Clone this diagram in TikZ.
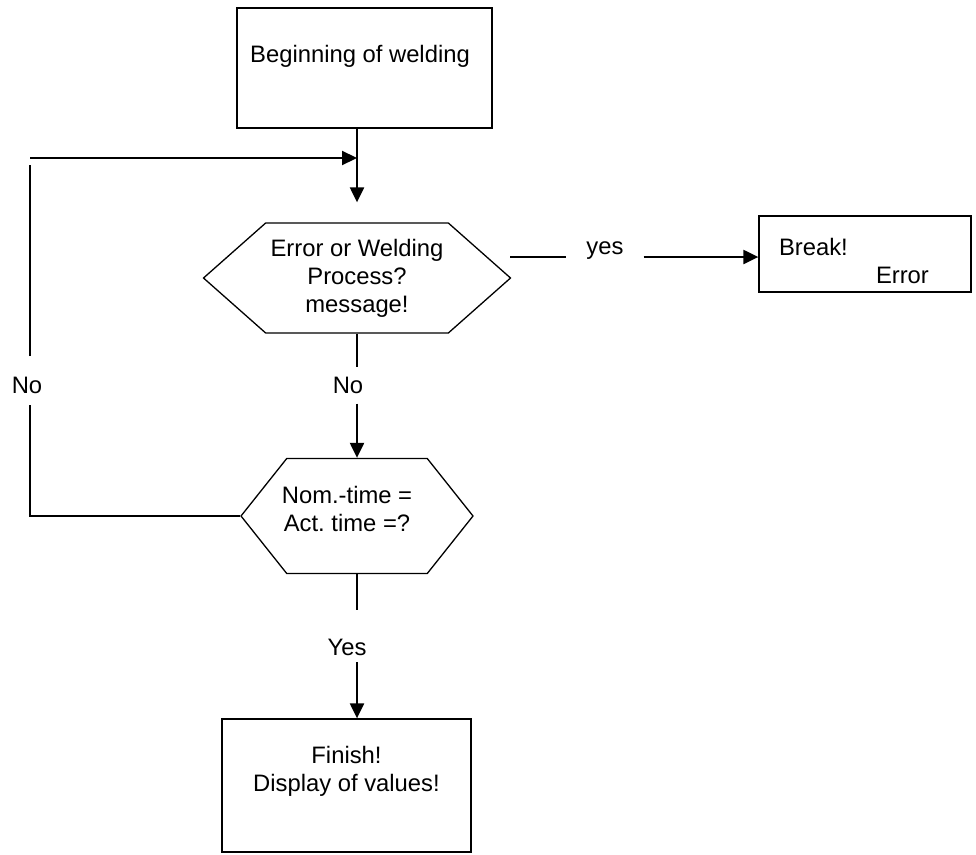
\documentclass[tikz,border=0pt]{standalone}
\usepackage{fontspec}
\setmainfont{Liberation Sans}
\usetikzlibrary{shapes.symbols,arrows.meta}
\begin{document}
\begin{tikzpicture}[x=1pt,y=-1pt,
  font=\fontsize{23.8}{28}\selectfont,
  box/.style={rectangle,draw,line width=1.3pt,inner sep=0pt},
  hexa/.style={signal,signal to=west and east,draw,line width=1.3pt,inner sep=0pt,align=center},
  word/.style={inner sep=0pt},
  thinline/.style={line width=1.3pt},
  arrowline/.style={line width=2.2pt,-{Triangle[length=15pt,width=14pt]}}]
\useasboundingbox (0,0) rectangle (976,854);

\node [box,minimum width=255pt,minimum height=120pt,label={[xshift=-4.5pt,yshift=12pt]center:Beginning of welding}] (start) at (364.5,68) {};
\node [hexa,minimum width=307pt,minimum height=110pt,signal pointer angle=83] (ask) at (357,278) {Error or Welding\\Process?\\message!};
\node [box,minimum width=212pt,minimum height=76pt,label={[yshift=-6.5pt,text width=172pt,align=left]center:Break!\\\hspace*{97pt}Error}] (stop) at (865,254) {};
\node [hexa,minimum width=232pt,minimum height=115pt,signal pointer angle=103,label={[xshift=-10pt,yshift=7.5pt,align=center]center:Nom.-time =\\Act.\ time =?}] (check) at (357,516) {};
\node [box,minimum width=249pt,minimum height=133pt,label={[yshift=14pt,align=center]center:Finish!\\Display of values!}] (finish) at (346.5,785.5) {};

\node [word,inner ysep=10pt] (no1) at (348,385) {No};
\node [word] (noL) at (27,385) {No};
\node [word] (yes2) at (347,647.5) {Yes};
\node [word,inner xsep=20pt] (yes1) at (605,250.5) {yes};

\coordinate (loop) at (30,158);
\coordinate (side) at (510,257);

\draw [arrowline] (start.south -| ask.north) -- ([yshift=20pt]ask.north);
\draw [arrowline] (loop) -- (loop -| ask.north);
\draw [thinline] (ask.south) -- (no1.north -| ask.south);
\draw [arrowline] (no1.south -| ask.south) -- (check.north);
\draw [thinline] (check.west) -| ([yshift=-11.5pt]noL.south -| loop);
\draw [thinline] ([yshift=20.5pt]noL.north -| loop) -- ([yshift=-7pt]loop);
\draw [thinline] (check.south) -- ([yshift=29pt]yes2.north -| check.south);
\draw [arrowline] ([yshift=-6pt]yes2.south -| check.south) -- (finish.north -| check.south);
\draw [thinline] (side) -- (side -| yes1.west);
\draw [arrowline] (side -| yes1.east) -- (side -| stop.west);
\end{tikzpicture}
\end{document}
